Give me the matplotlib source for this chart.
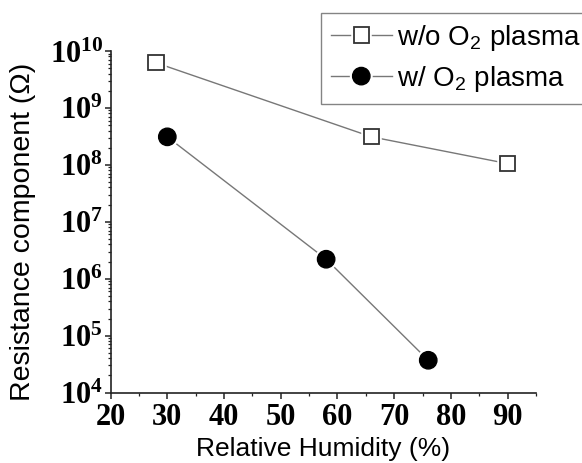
import math
import matplotlib
matplotlib.use("Agg")
import matplotlib.pyplot as plt
import matplotlib.patheffects as pe
from matplotlib.ticker import MultipleLocator, LogLocator, FuncFormatter, NullFormatter

# relative humidity (%) and resistance component (ohm)
rh_plain = [28, 66, 90]
r_plain = [6.2e9, 3.1e8, 1.05e8]
rh_o2 = [30, 58, 76]
r_o2 = [3.1e8, 2.2e6, 3.7e4]

label_plain = "w/o O$_\\mathrm{2}$ plasma"
label_o2 = "w/ O$_\\mathrm{2}$ plasma"

plt.rcParams["mathtext.fontset"] = "custom"
plt.rcParams["mathtext.rm"] = "Liberation Sans"
plt.rcParams["mathtext.bf"] = "Liberation Serif:bold"
sans = ["Liberation Sans", "DejaVu Sans"]

fig = plt.figure(figsize=(5.82, 4.63), dpi=100)
ax = fig.add_axes([0.190, 0.152, 0.731, 0.738])

halo = [pe.withStroke(linewidth=4, foreground="white")]
ax.plot(rh_plain, r_plain, color="#777777", lw=1, marker="s", ms=11,
        mfc="white", mec="#333333", mew=1.3, path_effects=halo, label=label_plain)
ax.plot(rh_o2, r_o2, color="#777777", lw=1, marker="o", ms=12.5,
        mfc="black", mec="black", mew=1, path_effects=halo, label=label_o2)

ax.set_yscale("log")
ax.set_xlim(20, 95)
ax.set_ylim(1e4, 1e10)

ax.xaxis.set_major_locator(MultipleLocator(10))
ax.xaxis.set_minor_locator(MultipleLocator(5))
ax.yaxis.set_major_locator(LogLocator(base=10, numticks=10))
ax.yaxis.set_minor_locator(LogLocator(base=10, subs=range(2, 10), numticks=20))
ax.yaxis.set_minor_formatter(NullFormatter())
ax.yaxis.set_major_formatter(FuncFormatter(lambda v, p: r"$\mathbf{10^{%d}}$" % round(math.log10(v))))

for s in ["top", "right"]:
    ax.spines[s].set_visible(False)
for s in ["left", "bottom"]:
    ax.spines[s].set_linewidth(1.2)
    ax.spines[s].set_color("#222222")

ax.tick_params(which="major", direction="out", length=4.5, width=1.1, color="#222222")
ax.tick_params(which="minor", direction="out", length=2.5, width=0.9, color="#222222")
ax.tick_params(axis="y", labelsize=22, pad=1)
ax.tick_params(axis="x", pad=3)
for t in ax.get_xticklabels():
    t.set_fontfamily("Liberation Serif")
    t.set_fontweight("bold")
    t.set_fontsize(22)

ax.set_xlabel("Relative Humidity (%)", fontsize=19, family=sans)
ax.set_ylabel("Resistance component (Ω)", fontsize=20.5, family=sans)
ax.xaxis.set_label_coords(0.5, -0.13)
ax.yaxis.set_label_coords(-0.175, 0.47)

leg = fig.legend(loc="upper left", bbox_to_anchor=(321 / 582, 1 - 13 / 463),
                 borderaxespad=0, fancybox=False, edgecolor="#666666",
                 prop={"family": sans, "size": 20}, handlelength=2.2,
                 handletextpad=0.2, borderpad=0.35, labelspacing=0.4)
leg.get_frame().set_linewidth(1)

fig.savefig("out.png", dpi=100)
